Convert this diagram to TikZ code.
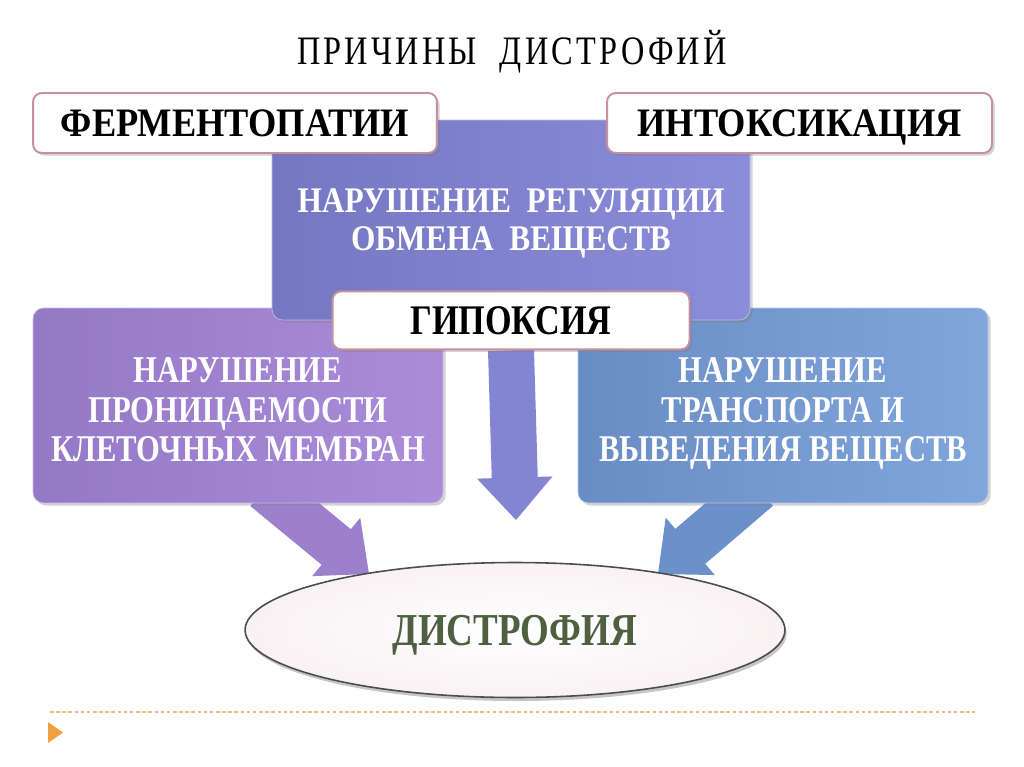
\documentclass[tikz,border=0pt]{standalone}
\usepackage{fontspec}
\setmainfont{Liberation Serif}
\newfontfamily\titlefont{Liberation Serif}[FakeStretch=0.8,LetterSpace=8]
\newfontfamily\wideb{Liberation Serif}[FakeStretch=0.9]
\newfontfamily\midb{Liberation Serif}[FakeStretch=0.87]
\newfontfamily\narrowb{Liberation Serif}[FakeStretch=0.81]
\usetikzlibrary{arrows.meta,positioning,calc,shadows,backgrounds,shapes.geometric}
\definecolor{regA}{HTML}{7577C1}
\definecolor{regB}{HTML}{8B8DDA}
\definecolor{memA}{HTML}{9479C6}
\definecolor{memB}{HTML}{AA8CDA}
\definecolor{trA}{HTML}{6A8CC4}
\definecolor{trB}{HTML}{80A6DC}
\definecolor{arrmid}{HTML}{8485D2}
\definecolor{arrmem}{HTML}{9C80CC}
\definecolor{arrtr}{HTML}{6C90CA}
\definecolor{rim}{HTML}{C8909F}
\definecolor{dysgreen}{HTML}{4E6040}
\definecolor{dotline}{HTML}{F0BA7C}
\definecolor{bullet}{HTML}{F0A040}

\begin{document}
\begin{tikzpicture}[x=0.02cm,y=-0.02cm,
  softshadow/.style={drop shadow={opacity=0.35,shadow xshift=1.5pt,shadow yshift=-1.5pt}},
  tagbox/.style={draw=rim,line width=1.1pt,fill=white,rounded corners=5pt,
    minimum height=1.2cm,inner sep=0pt,softshadow,text height=15.2pt,text depth=0pt,
    font=\wideb\bfseries\fontsize{23}{23}\selectfont},
  causebox/.style={rounded corners=6pt,inner sep=0pt,align=center,text=white,
    softshadow,text depth=0pt,font=\narrowb\bfseries\fontsize{21.5}{22.5}\selectfont},
  fatarrow/.style={line width=0.92cm,
    -{Triangle[length=0.85cm,width=1.5cm,line width=1.5pt]}}]
  \useasboundingbox (0,0) rectangle (1024,767);
  % causes at the sides and the centre
  \node[causebox,left color=memA,right color=memB,draw=memB!60!white,text height=64pt,
    minimum width=8.2cm,minimum height=3.9cm] (mem) at (238,405.5)
    {НАРУШЕНИЕ\\ПРОНИЦАЕМОСТИ\\КЛЕТОЧНЫХ МЕМБРАН};
  \node[causebox,left color=trA,right color=trB,draw=trB!60!white,text height=64pt,
    minimum width=8.2cm,minimum height=3.9cm] (tr) at (783,405.5)
    {НАРУШЕНИЕ\\ТРАНСПОРТА И\\ВЫВЕДЕНИЯ ВЕЩЕСТВ};
  \node[causebox,left color=regA,right color=regB,draw=regB!60!white,
    minimum width=9.56cm,minimum height=4cm,
    font=\midb\bfseries\fontsize{20.5}{21.6}\selectfont] (reg) at (511,220)
    {НАРУШЕНИЕ~ РЕГУЛЯЦИИ\\ОБМЕНА~ ВЕЩЕСТВ};
  % white tags
  \node[tagbox,minimum width=8.08cm] (ferm) at (235,123) {ФЕРМЕНТОПАТИИ};
  \node[tagbox,minimum width=7.7cm] (intox) at (799.5,123) {ИНТОКСИКАЦИЯ};
  \node[tagbox,minimum width=7.14cm,minimum height=1.16cm,text height=15.9pt,
    font=\narrowb\bfseries\fontsize{24}{24}\selectfont] (hyp) at (reg.south) {ГИПОКСИЯ};
  % result
  \node[ellipse,draw=black!70,line width=0.9pt,inner color=white,outer color=rim!12,
    minimum width=10.8cm,minimum height=2.7cm,inner sep=0pt,text height=17.2pt,text depth=0pt,
    drop shadow={opacity=0.45,shadow xshift=1pt,shadow yshift=-2pt},
    text=dysgreen,font=\narrowb\bfseries\fontsize{26}{26}\selectfont] (dys) at (515,630) {ДИСТРОФИЯ};
  \node[text height=15.2pt,text depth=0pt,
    font=\titlefont\fontsize{23}{23}\selectfont] (title) at (512,51.5) {ПРИЧИНЫ\ \ ДИСТРОФИЙ};
  \coordinate (hyptip) at (516,520);
  \coordinate (memtip) at (369,574);
  \coordinate (trtip) at (658,574);
  \begin{pgfonlayer}{background}
    \draw[fatarrow,draw=arrmid,fill=arrmid] (hyp.south) -- (hyptip);
    \draw[fatarrow,draw=arrmem,fill=arrmem] ($(mem.south)+(27,-15)$) -- (memtip);
    \draw[fatarrow,draw=arrtr,fill=arrtr] ($(tr.south)+(-25,-15)$) -- (trtip);
  \end{pgfonlayer}
  % footer
  \draw[dotline,line width=1pt,dash pattern=on 2pt off 1.5pt] (50,712) -- (975,712);
  \fill[bullet] (48,722) -- (63,732.5) -- (48,743) -- cycle;
\end{tikzpicture}
\end{document}
